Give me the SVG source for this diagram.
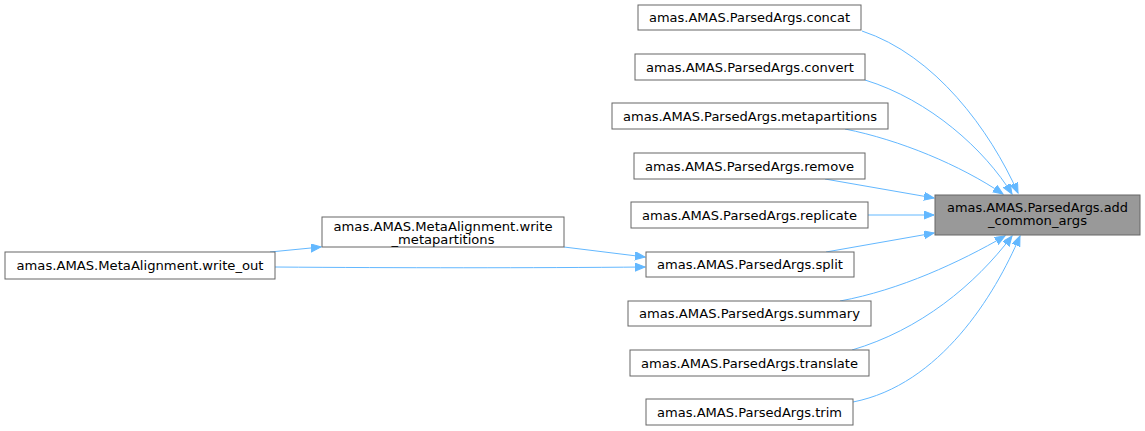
<svg xmlns="http://www.w3.org/2000/svg" width="1145" height="431" viewBox="0 0 1145 431">
<style>
.n rect{fill:#ffffff;stroke:#666666;stroke-width:1}
.hl rect{fill:#999999;stroke:#666666;stroke-width:1}
text{font-family:"DejaVu Sans",sans-serif;font-size:11.5px;fill:#000000;text-anchor:middle}
.e path{fill:none;stroke:#63b8ff;stroke-width:1;marker-end:url(#ah)}
</style>
<defs>
<marker id="ah" markerUnits="userSpaceOnUse" markerWidth="12" markerHeight="10" refX="10" refY="4" orient="auto">
<polygon points="0,0 10,4 0,8" fill="#63b8ff" stroke="#63b8ff"/>
</marker>
</defs>
<rect width="1145" height="431" fill="#ffffff"/>
<g class="e" id="edges">
<path d="M862,31 C935,55 990,130 1018,193"/>
<path d="M865,80 C930,100 985,150 1012,194"/>
<path d="M845,129 C900,140 960,165 1003,194"/>
<path d="M825,179 L934,198"/>
<path d="M868,215 L934,215"/>
<path d="M826,252 L934,233"/>
<path d="M840,301 C900,290 960,262 1005,236"/>
<path d="M852,350 C920,330 975,285 1012,236"/>
<path d="M853,402 C940,385 995,295 1020,236"/>
<path d="M270,252 L321,247"/>
<path d="M564,247 L645,257"/>
<path d="M275,267 C400,268 530,268 645,267"/>
</g>
<g class="hl" id="add_common_args"><rect x="935" y="195" width="205" height="40"/><text x="1037.5" y="211.5" textLength="181" lengthAdjust="spacingAndGlyphs">amas.AMAS.ParsedArgs.add</text><text x="1037.5" y="225" textLength="99" lengthAdjust="spacingAndGlyphs">_common_args</text></g>
<g class="n" id="concat"><rect x="638" y="5" width="223" height="25"/><text x="749.5" y="22" textLength="201" lengthAdjust="spacingAndGlyphs">amas.AMAS.ParsedArgs.concat</text></g>
<g class="n" id="convert"><rect x="635" y="54" width="230" height="26"/><text x="750" y="71.5" textLength="208" lengthAdjust="spacingAndGlyphs">amas.AMAS.ParsedArgs.convert</text></g>
<g class="n" id="metapartitions"><rect x="612" y="103" width="276" height="26"/><text x="750" y="120.5" textLength="254" lengthAdjust="spacingAndGlyphs">amas.AMAS.ParsedArgs.metapartitions</text></g>
<g class="n" id="remove"><rect x="634" y="153" width="231" height="26"/><text x="749.5" y="170.5" textLength="209" lengthAdjust="spacingAndGlyphs">amas.AMAS.ParsedArgs.remove</text></g>
<g class="n" id="replicate"><rect x="631" y="202" width="237" height="26"/><text x="749.5" y="219.5" textLength="215" lengthAdjust="spacingAndGlyphs">amas.AMAS.ParsedArgs.replicate</text></g>
<g class="n" id="split"><rect x="646" y="252" width="208" height="25"/><text x="750" y="269" textLength="186" lengthAdjust="spacingAndGlyphs">amas.AMAS.ParsedArgs.split</text></g>
<g class="n" id="summary"><rect x="628" y="301" width="243" height="25"/><text x="749.5" y="318" textLength="221" lengthAdjust="spacingAndGlyphs">amas.AMAS.ParsedArgs.summary</text></g>
<g class="n" id="translate"><rect x="630" y="350" width="239" height="26"/><text x="749.5" y="367.5" textLength="217" lengthAdjust="spacingAndGlyphs">amas.AMAS.ParsedArgs.translate</text></g>
<g class="n" id="trim"><rect x="646" y="399" width="207" height="26"/><text x="749.5" y="416.5" textLength="185" lengthAdjust="spacingAndGlyphs">amas.AMAS.ParsedArgs.trim</text></g>
<g class="n" id="write_metapartitions"><rect x="322" y="217" width="242" height="30"/><text x="443" y="231" textLength="219" lengthAdjust="spacingAndGlyphs">amas.AMAS.MetaAlignment.write</text><text x="443" y="244" textLength="103" lengthAdjust="spacingAndGlyphs">_metapartitions</text></g>
<g class="n" id="write_out"><rect x="5" y="252" width="270" height="27"/><text x="140" y="270" textLength="247" lengthAdjust="spacingAndGlyphs">amas.AMAS.MetaAlignment.write_out</text></g>
</svg>
